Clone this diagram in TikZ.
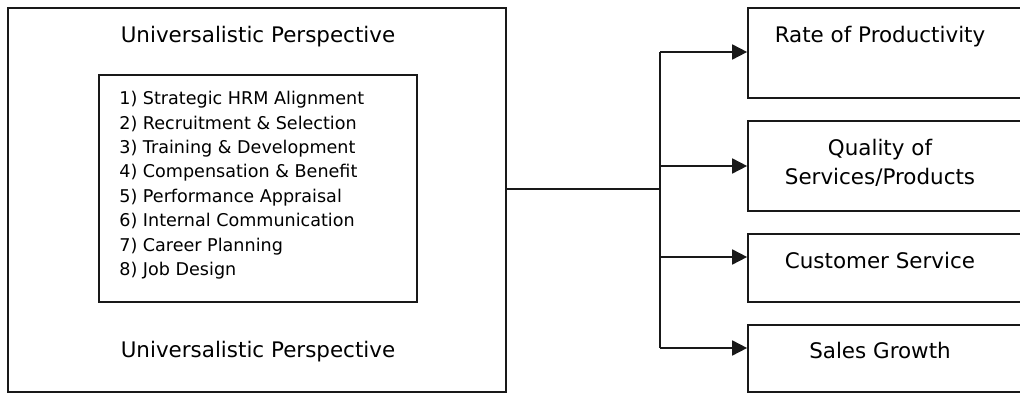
\documentclass[tikz,border=0pt]{standalone}
\usepackage{fontspec}
\setmainfont{DejaVu Sans}
\usetikzlibrary{arrows.meta,positioning}
\begin{document}
\begin{tikzpicture}[x=0.02cm,y=-0.02cm,
    box/.style={rectangle, draw=black!90, line width=1pt, inner sep=0pt},
    title/.style={inner sep=0pt, anchor=base, font=\fontsize{12.2}{17}\selectfont, align=center},
    items/.style={inner sep=0pt, anchor=north west, align=left, font=\fontsize{10}{13.9}\selectfont},
    line/.style={draw=black!90, line width=1pt},
    arrow/.style={line, -{Triangle[length=8.5pt, width=8.5pt]}}]
    \useasboundingbox (0,0) rectangle (1020,394);
    \clip (0,0) rectangle (1020,394);
    % left side
    \node[box, minimum width=9.96cm, minimum height=7.68cm] (big) at (257,200) {};
    \node[box, minimum width=6.36cm, minimum height=4.54cm] (list) at (258,188.5) {};
    \node[title] (toptitle) at (258,43) {Universalistic Perspective};
    \node[title] (bottitle) at (258,358) {Universalistic Perspective};
    \node[items] (hrm) at (119,91) {1) Strategic HRM Alignment\\2) Recruitment \& Selection\\3) Training \& Development\\4) Compensation \& Benefit\\5) Performance Appraisal\\6) Internal Communication\\7) Career Planning\\8) Job Design};
    % right side
    \node[box, minimum width=5.56cm, minimum height=1.8cm] (rate) at (887,53) {};
    \node[box, minimum width=5.56cm, minimum height=1.8cm] (quality) at (887,166) {};
    \node[box, minimum width=5.56cm, minimum height=1.36cm] (customer) at (887,268) {};
    \node[box, minimum width=5.56cm, minimum height=1.34cm] (sales) at (887,358.5) {};
    \node[title] (ratetxt) at (880,43) {Rate of Productivity};
    \node[title] (qualitytxt) at (880,185) {Quality of\\Services/Products};
    \node[title] (customertxt) at (880,269) {Customer Service};
    \node[title] (salestxt) at (880,359) {Sales Growth};
    % connectors
    \coordinate (split) at (660,189);
    \draw[line] (big.east |- split) -- (split);
    \draw[line] (split |- 0,52) -- (split |- 0,348);
    \draw[arrow] (split |- 0,52) -- (rate.west |- 0,52);
    \draw[arrow] (split |- 0,166) -- (quality.west |- 0,166);
    \draw[arrow] (split |- 0,257) -- (customer.west |- 0,257);
    \draw[arrow] (split |- 0,348) -- (sales.west |- 0,348);
\end{tikzpicture}
\end{document}
